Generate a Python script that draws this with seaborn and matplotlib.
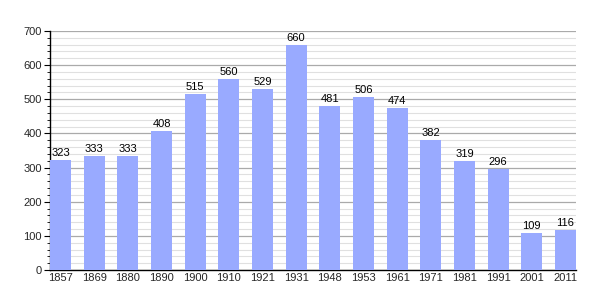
import matplotlib
matplotlib.use("Agg")
import matplotlib.pyplot as plt
import seaborn as sns
import pandas as pd
from matplotlib.ticker import MultipleLocator

years = ["1857", "1869", "1880", "1890", "1900", "1910", "1921", "1931",
         "1948", "1953", "1961", "1971", "1981", "1991", "2001", "2011"]
population = [323, 333, 333, 408, 515, 560, 529, 660,
              481, 506, 474, 382, 319, 296, 109, 116]

df = pd.DataFrame({"year": years, "pop": population})

sns.set_theme(style="white")
plt.rcParams['font.family'] = ['Liberation Sans', 'DejaVu Sans']

fig = plt.figure(figsize=(6.05, 3.0), dpi=100)
ax = fig.add_axes([50/605, 1-270/300, 526/605, 239/300])

sns.barplot(data=df, x="year", y="pop", color="#99aaff", saturation=1,
            width=0.625, linewidth=0, edgecolor="none", ax=ax, zorder=3)

ax.set_xlim(-0.3125, 15.3125)
ax.set_ylim(0, 700)
ax.yaxis.set_major_locator(MultipleLocator(100))
ax.yaxis.set_minor_locator(MultipleLocator(20))
ax.grid(which="major", axis="y", color="#aaaaaa", linewidth=0.9, zorder=0)
ax.grid(which="minor", axis="y", color="#e0e0e0", linewidth=0.8, zorder=0)
ax.set_axisbelow(True)

for s in ["top", "right"]:
    ax.spines[s].set_visible(False)
for s in ["left", "bottom"]:
    ax.spines[s].set_color("black")
    ax.spines[s].set_linewidth(1.0)

ax.tick_params(axis="y", which="major", left=True, length=4, width=0.8,
               color="black", labelsize=8, pad=2)
ax.tick_params(axis="y", which="minor", left=True, length=2, width=0.6,
               color="black")
ax.tick_params(axis="x", bottom=False, length=0, labelsize=8, pad=2)
ax.set_xlabel("")
ax.set_ylabel("")

for i, v in enumerate(population):
    ax.text(i, v + 6, str(v), ha="center", va="bottom", fontsize=8,
            color="black", zorder=4)

fig.savefig("out.png", dpi=100)
